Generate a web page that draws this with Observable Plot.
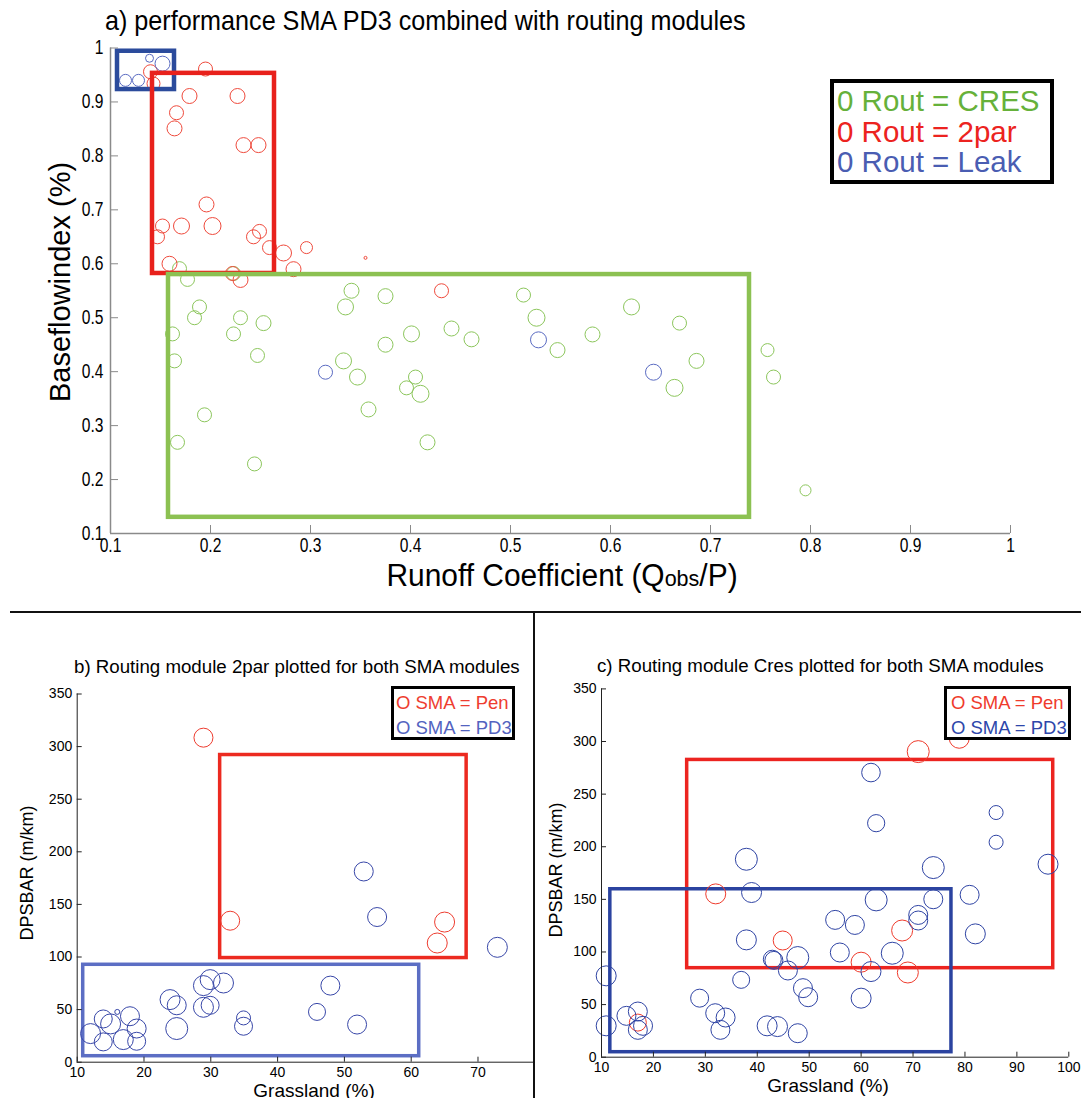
<!DOCTYPE html>
<html><head><meta charset="utf-8">
<script src="https://cdn.jsdelivr.net/npm/d3@7"></script>
<script src="https://cdn.jsdelivr.net/npm/@observablehq/plot@0.6"></script>
<style>
body{margin:0;background:#fff;}
#root{position:relative;width:1081px;height:1098px;overflow:hidden;background:#fff;font-family:"Liberation Sans",Arial,Helvetica,sans-serif;}
.abs{position:absolute;white-space:nowrap;line-height:1;}
</style></head><body><div id="root"></div>
<script>
// ================= DATA =================
// ---- Panel a: performance SMA PD3 combined with routing modules ----
const aTitle = "a) performance SMA PD3 combined with routing modules";
const aXLabel = "Runoff Coefficient (Q<span style='font-size:0.72em'>obs</span>/P)";
const aYLabel = "Baseflowindex (%)";
const aXTicks = [0.1,0.2,0.3,0.4,0.5,0.6,0.7,0.8,0.9,1];
const aYTicks = [0.1,0.2,0.3,0.4,0.5,0.6,0.7,0.8,0.9,1];
const aLegend = ["0 Rout = CRES","0 Rout = 2par","0 Rout = Leak"];

// Rout = CRES
const aCresX = [0.169,0.177,0.223,0.189,0.184,0.162,0.164,0.194,0.167,0.230,0.223,0.253,0.247,0.244,
  0.341,0.335,0.375,0.401,0.375,0.333,0.347,0.358,0.405,0.396,0.410,0.417,0.441,0.461,
  0.513,0.526,0.547,0.582,0.621,0.669,0.686,0.664,0.757,0.763,0.795];
const aCresY = [0.591,0.571,0.582,0.520,0.500,0.470,0.420,0.320,0.269,0.500,0.470,0.490,0.430,0.229,
  0.550,0.520,0.540,0.470,0.450,0.420,0.390,0.330,0.390,0.370,0.359,0.269,0.480,0.460,
  0.542,0.500,0.440,0.469,0.520,0.490,0.420,0.370,0.440,0.390,0.180];
const aCresSize = [7,7,7,7,7,7,7,7,7,7,7,7.5,7,7,
  7.5,8,7.5,8,7.5,8,8,7.5,7,7,8.5,7.5,7.5,7.5,
  7,8.5,7.5,7.5,8,7,7.5,8.5,6.5,7,5.5];
// Rout = 2par
const a2parX = [0.140,0.143,0.195,0.179,0.227,0.166,0.164,0.233,0.248,0.196,0.152,0.171,0.202,0.147,
  0.243,0.249,0.259,0.273,0.296,0.159,0.283,0.230,0.222,0.355,0.431];
const a2parY = [0.956,0.934,0.961,0.911,0.911,0.880,0.851,0.820,0.820,0.710,0.670,0.670,0.670,0.650,
  0.650,0.660,0.630,0.620,0.630,0.600,0.590,0.570,0.582,0.611,0.550];
const a2parSize = [7,6.5,7,7.5,7.5,7,7.5,7.5,7.5,7.5,7,8,8.5,7,
  7,7,7,8,6,7.5,7.5,7.5,7,1.5,7];
// Rout = Leak
const aLeakX = [0.115,0.128,0.139,0.152,0.315,0.528,0.643];
const aLeakY = [0.940,0.940,0.981,0.971,0.399,0.459,0.399];
const aLeakSize = [6,6,4,7.5,7,8,8];
// performance boxes (Leak, 2par, CRES)
const aBoxName = ["Leak","2par","CRES"];
const aBoxX1 = [0.107,0.142,0.158];
const aBoxX2 = [0.164,0.264,0.739];
const aBoxY1 = [0.923,0.582,0.130];
const aBoxY2 = [0.994,0.953,0.580];

// ---- Panel b: Routing module 2par ----
const bTitle = "b) Routing module 2par plotted for both SMA modules";
const bXLabel = "Grassland (%)";
const bYLabel = "DPSBAR (m/km)";
const bXTicks = [10,20,30,40,50,60,70];
const bYTicks = [0,50,100,150,200,250,300,350];
const bLegend = ["O SMA = Pen","O SMA = PD3"];
const bPenX = [28.9,32.9,65.0,63.9];
const bPenY = [308.5,134.5,133.2,113.3];
const bPenSize = [9.5,9.5,10,10];
const bPd3X = [52.9,54.9,72.9,12.0,13.9,15.0,13.9,16.0,17.9,16.9,18.9,18.9,23.9,24.9,24.9,
  28.9,29.9,31.9,28.9,29.9,34.9,34.9,47.9,45.9,51.9];
const bPd3Y = [181.3,138.0,109.2,27.2,41.1,36.4,19.3,47.8,43.7,21.5,32.0,19.9,59.5,54.1,32.0,
  72.8,78.5,75.3,52.2,54.1,42.1,34.2,72.8,47.8,35.8];
const bPd3Size = [9.5,9.5,10,10,9,10,9,2.5,9.5,10,9.5,9,10,9.5,11,
  10,10,10,10,9,7,9,9.5,8.5,9.5];
const bBoxName = ["PD3","Pen"];
const bBoxX1 = [10.9,31.4];
const bBoxX2 = [61.2,68.3];
const bBoxY1 = [5.7,99.0];
const bBoxY2 = [92.6,292.0];

// ---- Panel c: Routing module Cres ----
const cTitle = "c) Routing module Cres plotted for both SMA modules";
const cXLabel = "Grassland (%)";
const cYLabel = "DPSBAR (m/km)";
const cXTicks = [10,20,30,40,50,60,70,80,90,100];
const cYTicks = [0,50,100,150,200,250,300,350];
const cLegend = ["O SMA = Pen","O SMA = PD3"];
const cPenX = [78.9,71.0,32.0,44.9,67.9,60.0,69.0,17.0];
const cPenY = [303.1,290.4,155.2,110.9,120.4,90.3,80.5,32.9];
const cPenSize = [10,11,10,9.5,10.5,10,10.5,8.5];
const cPd3X = [61.9,62.9,86.0,86.0,37.9,73.9,96.0,38.9,62.9,73.9,80.9,55.0,58.8,71.0,71.0,82.0,
  37.9,42.9,43.2,47.8,45.9,55.9,66.0,61.9,36.9,48.8,49.8,60.0,28.9,31.9,33.9,32.9,41.9,43.9,47.8,
  10.9,10.9,14.8,17.0,17.0,18.0];
const cPd3Y = [270.5,222.4,232.5,204.3,188.1,180.2,183.4,156.5,149.5,150.1,154.3,130.5,125.7,135.2,129.9,117.2,
  111.5,93.1,92.0,94.7,82.4,99.5,98.8,81.4,73.5,65.6,57.0,56.1,56.1,41.8,37.7,26.0,29.8,29.1,22.8,
  77.3,29.8,39.3,43.4,26.0,29.8];
const cPd3Size = [9.3,8.6,7,7,11,11,10,10,11,9.5,9.5,9.5,9.5,9.5,9.5,10,
  10,9,9,11,9.5,9.5,11,10,8.5,9.5,9.5,10,9,9.5,9.5,9.5,10,10,9.5,
  10,10,9.5,9.5,9.5,9.5];
const cBoxName = ["Pen","PD3"];
const cBoxX1 = [26.5,11.7];
const cBoxX2 = [97.0,77.4];
const cBoxY1 = [84.6,4.75];
const cBoxY2 = [282.5,159.6];

// ================= HELPERS =================
const root = document.getElementById("root");
const pts = (X, Y, S) => X.map((x, i) => ({x, y: Y[i], s: S[i]}));
const boxes = (N, X1, X2, Y1, Y2) => N.map((n, i) => ({n, x1: X1[i], x2: X2[i], y1: Y1[i], y2: Y2[i]}));

function addText(html, {x, y, size, color = "#000", family, rotate = 0, anchor = "middle", sx = 1}) {
  const d = document.createElement("div");
  d.className = "abs";
  d.innerHTML = html;
  d.style.left = x + "px"; d.style.top = y + "px";
  d.style.fontSize = size + "px"; d.style.color = color;
  if (family) d.style.fontFamily = family;
  const tx = anchor === "middle" ? "-50%" : anchor === "end" ? "-100%" : "0";
  if (anchor === "start") d.style.transformOrigin = "0 50%";
  d.style.transform = `translate(${tx},-50%) rotate(${rotate}deg) scaleX(${sx})`;
  root.appendChild(d);
  return d;
}
function addLegend(lines, colors, {left, top, width, height, border, size, pad, lh, padLeft = 3}) {
  const d = document.createElement("div");
  d.className = "abs";
  Object.assign(d.style, {left: left + "px", top: top + "px", width: width + "px", height: height + "px",
    border: `${border}px solid #000`, boxSizing: "border-box", background: "#fff", padding: `${pad}px 0 0 ${padLeft}px`, overflow: "hidden"});
  lines.forEach((t, i) => {
    const l = document.createElement("div");
    l.textContent = t;
    Object.assign(l.style, {color: colors[i], fontSize: size + "px", lineHeight: lh + "px"});
    d.appendChild(l);
  });
  root.appendChild(d);
}
function addLine(left, top, w, h) {
  const d = document.createElement("div");
  Object.assign(d.style, {position: "absolute", left: left + "px", top: top + "px", width: w + "px", height: h + "px", background: "#111"});
  root.appendChild(d);
}
function panel(o) {
  const pw = o.width - o.ml - o.mr, ph = o.height - o.mt - o.mb;
  const svg = Plot.plot({
    width: o.width, height: o.height,
    marginLeft: o.ml, marginRight: o.mr, marginTop: o.mt, marginBottom: o.mb,
    x: {domain: o.xd}, y: {domain: o.yd},
    r: {type: "linear", domain: [0, 10], range: [0, 10]},
    style: {fontFamily: o.font, fontSize: o.fontSize + "px", background: "transparent", color: "#000", overflow: "hidden"},
    marks: [
      ...o.marks,
      Plot.ruleY([o.yd[0]], {stroke: o.axisColor, strokeWidth: o.axisWidth}),
      Plot.ruleX([o.xd[0]], {stroke: o.axisColor, strokeWidth: o.axisWidth}),
      Plot.tickX(o.xticks, {x: d => d, stroke: o.axisColor, insetTop: ph - o.tickLen}),
      Plot.tickY(o.yticks, {y: d => d, stroke: o.axisColor, insetRight: pw - o.tickLen}),
      Plot.axisX({ticks: o.xticks, tickSize: 0, tickPadding: o.padX, tickFormat: d => String(d), fill: "#000"}),
      Plot.axisY({ticks: o.yticks, tickSize: 0, tickPadding: o.padY, tickFormat: d => String(d), fill: "#000"})
    ]
  });
  Object.assign(svg.style, {position: "absolute", left: o.left + "px", top: o.top + "px", maxWidth: "none"});
  if (o.labelScale && o.labelScale !== 1) {
    d3.select(svg).selectAll('g[aria-label$="tick label"] text').attr("transform", function() {
      return (this.getAttribute("transform") || "") + ` scale(${o.labelScale},1)`;
    });
  }
  root.appendChild(svg);
}
const dots = (data, stroke, sw = 1) => Plot.dot(data, {x: "x", y: "y", r: "s", stroke, fill: "none", strokeWidth: sw});
const rects = (data, name, stroke, sw) => Plot.rect(data.filter(d => d.n === name), {x1: "x1", x2: "x2", y1: "y1", y2: "y2", stroke, fill: "none", strokeWidth: sw});

// ================= PANEL A =================
const C = {
  aGreen: "#8cc65c", aGreenBox: "#8cc152", aGreenTxt: "#66b13a",
  aRed: "#ef4a3c", aRedBox: "#e8211c", aRedTxt: "#ec2320",
  aBlue: "#5a6bc2", aBlueBox: "#2b4b9c", aBlueTxt: "#4a5db2",
  bRed: "#ee3d30", bBlue: "#3847a8", bRedBox: "#ec2a20", bBlueBox: "#5c6ec4", bBlueTxt: "#5363bf",
  cRed: "#ef3b2c", cBlue: "#2f44a4", cRedBox: "#ec2420", cBlueBox: "#2b43a0", cBlueTxt: "#2d46aa"
};
const aB = boxes(aBoxName, aBoxX1, aBoxX2, aBoxY1, aBoxY2);
panel({
  left: 0, top: 0, width: 1081, height: 600, ml: 110, mr: 71, mt: 47.5, mb: 67,
  xd: [0.1, 1], yd: [0.1, 1], xticks: aXTicks, yticks: aYTicks,
  axisColor: "#8a8a8a", axisWidth: 1.5, tickLen: 8, padX: 5, padY: 7, fontSize: 19.5, labelScale: 0.8,
  font: "'Liberation Sans',Arial,sans-serif",
  marks: [
    dots(pts(aCresX, aCresY, aCresSize), C.aGreen),
    dots(pts(a2parX, a2parY, a2parSize), C.aRed),
    dots(pts(aLeakX, aLeakY, aLeakSize), C.aBlue),
    rects(aB, "Leak", C.aBlueBox, 4.5),
    rects(aB, "2par", C.aRedBox, 4.5),
    rects(aB, "CRES", C.aGreenBox, 4.5)
  ]
});
addText(aTitle, {x: 105, y: 21, size: 27.5, anchor: "start", sx: 0.915});
addText(aYLabel, {x: 60, y: 282, size: 29, rotate: -90});
addText(aXLabel, {x: 562, y: 575, size: 31, sx: 0.965});
addLegend(aLegend, [C.aGreenTxt, C.aRedTxt, C.aBlueTxt], {left: 830, top: 79, width: 224, height: 105, border: 4, size: 29.5, pad: 3, lh: 30.5});

// dividers
addLine(10, 611, 1071, 1.5);
addLine(533, 611, 1.5, 487);

// ================= PANEL B =================
const bB = boxes(bBoxName, bBoxX1, bBoxX2, bBoxY1, bBoxY2);
panel({
  left: 0, top: 612, width: 533, height: 486, ml: 76.7, mr: 0, mt: 81.5, mb: 36.3,
  xd: [10, 78.31], yd: [0, 350], xticks: bXTicks, yticks: bYTicks,
  axisColor: "#222", axisWidth: 1, tickLen: 5, padX: 5, padY: 5, fontSize: 14,
  font: "'Liberation Sans',Arial,sans-serif",
  marks: [
    rects(bB, "Pen", C.bRedBox, 3.5),
    rects(bB, "PD3", C.bBlueBox, 3.5),
    dots(pts(bPenX, bPenY, bPenSize), C.bRed),
    dots(pts(bPd3X, bPd3Y, bPd3Size), C.bBlue)
  ]
});
addText(bTitle, {x: 74, y: 667, size: 18.7, anchor: "start"});
addText(bYLabel, {x: 27, y: 873, size: 18, rotate: -90});
addText(bXLabel, {x: 314, y: 1090, size: 19});
addLegend(bLegend, [C.bRed, C.bBlueTxt], {left: 391, top: 686, width: 124, height: 54, border: 3, size: 18.5, pad: 1, lh: 25, padLeft: 2});

// ================= PANEL C =================
const cB = boxes(cBoxName, cBoxX1, cBoxX2, cBoxY1, cBoxY2);
panel({
  left: 534, top: 612, width: 547, height: 486, ml: 67, mr: 12.7, mt: 76.4, mb: 41.3,
  xd: [10, 100], yd: [0, 350], xticks: cXTicks, yticks: cYTicks,
  axisColor: "#222", axisWidth: 1, tickLen: 5, padX: 5, padY: 5, fontSize: 14,
  font: "'Liberation Sans',Arial,sans-serif",
  marks: [
    rects(cB, "Pen", C.cRedBox, 3.5),
    rects(cB, "PD3", C.cBlueBox, 3.5),
    dots(pts(cPenX, cPenY, cPenSize), C.cRed),
    dots(pts(cPd3X, cPd3Y, cPd3Size), C.cBlue)
  ]
});
addText(cTitle, {x: 597, y: 666, size: 18.7, anchor: "start"});
addText(cYLabel, {x: 556, y: 870, size: 18, rotate: -90});
addText(cXLabel, {x: 828, y: 1084.5, size: 19});
addLegend(cLegend, [C.cRed, C.cBlueTxt], {left: 944, top: 686, width: 127, height: 54, border: 3, size: 18.5, pad: 1, lh: 25, padLeft: 4});
</script></body></html>
